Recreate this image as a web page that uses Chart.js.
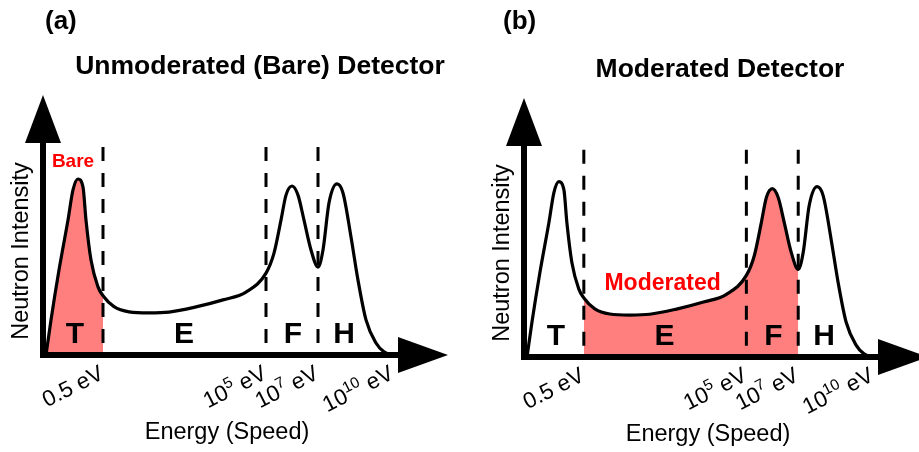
<!DOCTYPE html>
<html>
<head>
<meta charset="UTF-8">
<title>Bare vs moderated neutron detector</title>
<style>
    body { margin: 0; background: #fff; }
    #wrap { position: relative; width: 919px; height: 452px; overflow: hidden; }
    canvas { position: absolute; top: 0; }
    #bareChart { left: 0; }
    #modChart { left: 460px; }
</style>
<script src="https://cdn.jsdelivr.net/npm/chart.js"></script>
</head>
<body>
<div id="wrap">
    <canvas id="bareChart" width="460" height="452"></canvas>
    <canvas id="modChart" width="459" height="452"></canvas>
</div>
<script>
// neutron spectrum sketch: position along the energy axis, intensity in % of axis height
const spectrumPos = [3, 8, 16, 25, 30, 35, 40, 43, 48, 55, 60, 71, 86, 106, 126, 153, 180, 203, 223,
    231, 238, 243, 249, 255, 261, 268, 275, 280, 286, 294, 300, 308, 315, 323, 333, 341, 350];
const spectrumIntensity = [0, 13.5, 32.7, 51.9, 63.5, 67.7, 64.6, 51.9, 36.5, 26.2, 22.8, 18.6, 16.6, 16.2, 16.5, 18.5, 21.2, 24.2, 31.5,
    39.2, 51.9, 61.5, 65, 61.5, 51.9, 40.4, 33.8, 40.4, 58.5, 65.8, 62.3, 45.4, 28.8, 13.5, 4.6, 1.2, 0];

// region boundaries (dashed) and region names
const boundaryPos = [60, 223, 275];
const boundaryTop = 80;
const regionNames = ['T', 'E', 'F', 'H'];
const regionCenters = [32, 141, 250, 301];

// energy tick labels
const tickPos = [60, 223, 275, 350];
const tickBase = ['0.5', '10', '10', '10'];
const tickExp = ['', '5', '7', '10'];

// part of the spectrum each detector sees
const bareRange = [3, 60];
const moderatedRange = [60, 275];

const FONT = '"Liberation Sans", Arial, sans-serif';
const PINK = '#ff7f7f';

function curvePoints(from, to) {
    const pts = [];
    spectrumPos.forEach((p, i) => {
        if (p >= from && p <= to) pts.push({ x: p, y: spectrumIntensity[i] });
    });
    return pts;
}

function drawTick(ctx, x, y, base, exp) {
    ctx.save();
    ctx.translate(x, y);
    ctx.rotate(-27 * Math.PI / 180);
    ctx.fillStyle = '#000';
    ctx.textBaseline = 'alphabetic';
    ctx.textAlign = 'left';
    ctx.font = '22.5px ' + FONT;
    const w1 = ctx.measureText(base).width;
    const w3 = ctx.measureText(' eV').width;
    ctx.font = '15.5px ' + FONT;
    const w2 = exp ? ctx.measureText(exp).width : 0;
    let cx = -(w1 + w2 + w3);
    ctx.font = '22.5px ' + FONT;
    ctx.fillText(base, cx, 0);
    cx += w1;
    if (exp) {
        ctx.font = '15.5px ' + FONT;
        ctx.fillText(exp, cx, -9);
        cx += w2;
    }
    ctx.font = '22.5px ' + FONT;
    ctx.fillText(' eV', cx, 0);
    ctx.restore();
}

const sketchPlugin = {
    id: 'sketch',
    afterDraw(chart, args, opts) {
        const ctx = chart.ctx;
        const a = chart.chartArea;
        const xs = chart.scales.x, ys = chart.scales.y;
        const y0 = ys.getPixelForValue(0);
        ctx.save();
        ctx.fillStyle = '#000';
        ctx.strokeStyle = '#000';

        // axes with arrow heads
        ctx.lineWidth = 6;
        ctx.beginPath();
        ctx.moveTo(a.left, y0 + 3);
        ctx.lineTo(a.left, a.top + 46);
        ctx.moveTo(a.left - 3, y0);
        ctx.lineTo(a.right + 2, y0);
        ctx.stroke();
        ctx.beginPath();
        ctx.moveTo(a.left - 18, a.top + 48);
        ctx.lineTo(a.left + 18, a.top + 48);
        ctx.lineTo(a.left, a.top);
        ctx.closePath();
        ctx.fill();
        ctx.beginPath();
        ctx.moveTo(a.right, y0 - 18);
        ctx.lineTo(a.right, y0 + 18);
        ctx.lineTo(a.right + 50, y0);
        ctx.closePath();
        ctx.fill();

        // region letters
        ctx.font = 'bold 30px ' + FONT;
        ctx.textAlign = 'center';
        ctx.textBaseline = 'alphabetic';
        regionNames.forEach((n, i) => {
            ctx.fillText(n, xs.getPixelForValue(regionCenters[i]), y0 - 12.5);
        });

        // energy ticks
        tickPos.forEach((p, i) => {
            drawTick(ctx, xs.getPixelForValue(p) + 2, y0 + 23, tickBase[i], tickExp[i]);
        });

        // axis titles
        ctx.font = '23.5px ' + FONT;
        ctx.textAlign = 'center';
        ctx.fillText('Energy (Speed)', a.left + 184, y0 + 84);
        ctx.save();
        ctx.translate(a.left - 21, y0 - 104);
        ctx.rotate(-Math.PI / 2);
        ctx.textBaseline = 'middle';
        ctx.fillText('Neutron Intensity', 0, 0);
        ctx.restore();

        // panel letter and title
        ctx.font = 'bold 26px ' + FONT;
        ctx.textAlign = 'left';
        ctx.fillText(opts.letter, opts.letterX, 29);
        ctx.font = 'bold 26.5px ' + FONT;
        ctx.textAlign = 'center';
        ctx.fillText(opts.title, 260, opts.titleY);

        // red note
        ctx.fillStyle = '#ff0000';
        ctx.font = 'bold ' + opts.noteSize + 'px ' + FONT;
        ctx.fillText(opts.note, xs.getPixelForValue(opts.noteX), ys.getPixelForValue(opts.noteY));
        ctx.restore();
    }
};

function makeChart(id, range, padding, sketch) {
    const datasets = [{
        data: spectrumPos.map((p, i) => ({ x: p, y: spectrumIntensity[i] })),
        borderColor: '#000',
        borderWidth: 3.2,
        fill: false,
        cubicInterpolationMode: 'monotone',
        pointRadius: 0,
        order: 0
    }];
    boundaryPos.forEach(b => {
        datasets.push({
            data: [{ x: b, y: boundaryTop }, { x: b, y: 0 }],
            borderColor: '#000',
            borderWidth: 3,
            borderDash: [14, 12],
            fill: false,
            pointRadius: 0,
            order: 1
        });
    });
    datasets.push({
        data: curvePoints(range[0], range[1]),
        borderWidth: 0,
        borderColor: 'rgba(0,0,0,0)',
        backgroundColor: PINK,
        fill: 'origin',
        cubicInterpolationMode: 'monotone',
        pointRadius: 0,
        order: 2
    });

    return new Chart(document.getElementById(id).getContext('2d'), {
        type: 'line',
        data: { datasets: datasets },
        options: {
            responsive: false,
            animation: false,
            devicePixelRatio: 1,
            events: [],
            layout: { padding: padding },
            scales: {
                x: { type: 'linear', min: 0, max: 355, display: false },
                y: { min: 0, max: 100, display: false }
            },
            plugins: {
                legend: { display: false },
                tooltip: { enabled: false },
                sketch: sketch
            }
        },
        plugins: [sketchPlugin]
    });
}

makeChart('bareChart', bareRange, { left: 43, right: 62, top: 95, bottom: 97 }, {
    letter: '(a)', letterX: 45, title: 'Unmoderated (Bare) Detector', titleY: 74,
    note: 'Bare', noteX: 30, noteY: 72.3, noteSize: 19
});
makeChart('modChart', moderatedRange, { left: 64, right: 41, top: 98, bottom: 95 }, {
    letter: '(b)', letterX: 43, title: 'Moderated Detector', titleY: 77,
    note: 'Moderated', noteX: 139, noteY: 25.9, noteSize: 23
});
</script>
</body>
</html>
